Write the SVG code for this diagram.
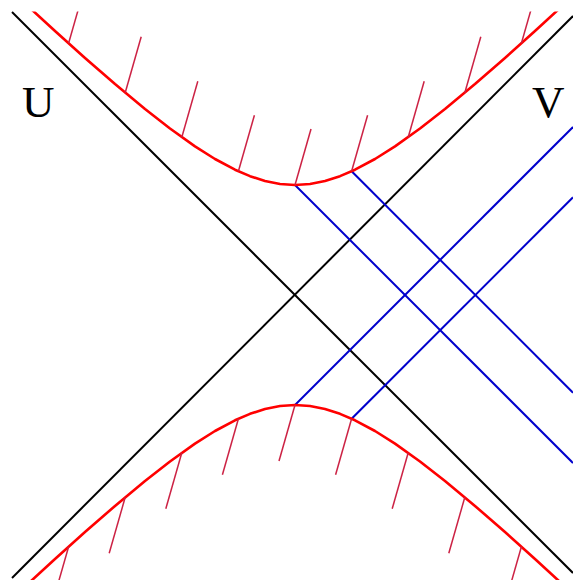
<svg xmlns="http://www.w3.org/2000/svg" xmlns:xlink="http://www.w3.org/1999/xlink" width="573" height="583" viewBox="0 0 573 583">
<style>
.axis{stroke:#000;stroke-width:2;fill:none}
.hyp{stroke:#ff0000;stroke-width:2.6;fill:none;stroke-linejoin:round;stroke-linecap:round}
.hatch{stroke:#cc2244;stroke-width:1.5;fill:none}
.blue{stroke:#0000cc;stroke-width:2;fill:none}
.lbl{font-family:"Liberation Serif","Times New Roman",serif;font-size:45px;fill:#000}
</style>
<defs>
<clipPath id="clip"><rect x="0" y="11.5" width="573" height="568.5"/></clipPath>
<g id="branch">
<polyline class="hyp" points="25,3.45 55,30.99 85,57.93 115,84.05 145,108.99 170,128.49 195,146.34 215,158.99 235,169.70 250,176.15 265,180.98 280,183.98 295,185 310,183.98 325,180.98 340,176.15 355,169.70 375,158.99 395,146.34 420,128.49 445,108.99 475,84.05 505,57.93 535,30.99 565,3.45"/>
<g class="hatch">
<line x1="68.6" y1="43.3" x2="84.6" y2="-12.7"/>
<line x1="125.2" y1="92.7" x2="141.2" y2="36.7"/>
<line x1="181.8" y1="137.2" x2="197.8" y2="81.2"/>
<line x1="238.4" y1="171.3" x2="254.4" y2="115.3"/>
<line x1="295" y1="185" x2="311" y2="129"/>
<line x1="351.6" y1="171.3" x2="367.6" y2="115.3"/>
<line x1="408.2" y1="137.2" x2="424.2" y2="81.2"/>
<line x1="464.8" y1="92.7" x2="480.8" y2="36.7"/>
<line x1="521.4" y1="43.3" x2="537.4" y2="-12.7"/>
</g>
</g>
</defs>
<rect width="573" height="583" fill="#fff"/>
<g id="connectors">
<g id="axis-U"><line class="axis" x1="12" y1="12" x2="573" y2="573"/></g>
<g id="axis-V"><line class="axis" x1="12" y1="578" x2="573" y2="16"/></g>
<g id="blue-lines" class="blue">
<line x1="295" y1="185" x2="573" y2="463"/>
<line x1="351.6" y1="171.3" x2="573" y2="392.7"/>
<line x1="295" y1="405" x2="573" y2="127"/>
<line x1="351.6" y1="418.7" x2="573" y2="197.3"/>
</g>
</g>
<g id="hyperbolas" clip-path="url(#clip)">
<g id="upper-branch"><use xlink:href="#branch"/></g>
<g id="lower-branch"><use xlink:href="#branch" transform="rotate(180 295 295)"/></g>
</g>
<g id="label-U"><text class="lbl" x="22" y="117">U</text></g>
<g id="label-V"><text class="lbl" x="532" y="117">V</text></g>
</svg>
